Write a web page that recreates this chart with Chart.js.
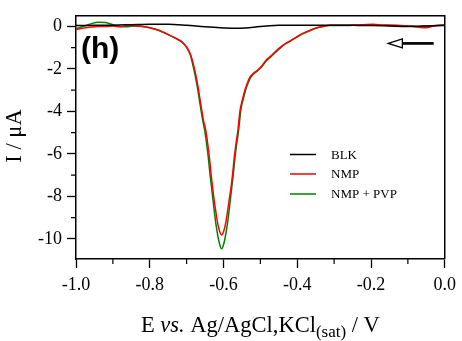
<!DOCTYPE html>
<html>
<head>
<meta charset="utf-8">
<script src="https://cdn.jsdelivr.net/npm/chart.js@4.4.1/dist/chart.umd.min.js"></script>
<style>
  html, body { margin: 0; padding: 0; background: #fff; }
  #wrap { width: 462px; height: 341px; }
</style>
</head>
<body>
<div id="wrap"><canvas id="chart" width="462" height="341"></canvas></div>
<script>
// Series (E in V, I in µA)
const blkE = [-1.0,-0.95,-0.9,-0.85,-0.8,-0.75,-0.7,-0.65,-0.6,-0.57,-0.54,-0.5,-0.45,-0.4,-0.35,-0.3,-0.25,-0.2,-0.15,-0.1,-0.05,0];
const blkI = [0.04,0.05,0.06,0.08,0.1,0.1,0.05,-0.02,-0.07,-0.09,-0.07,0.0,0.05,0.06,0.05,0.06,0.05,0.04,0.02,0.0,0.02,0.05];

const nmpE = [-1.0,-0.98,-0.96,-0.94,-0.92,-0.90,-0.88,-0.86,-0.84,-0.82,-0.80,-0.78,-0.77,-0.76,-0.745,-0.73,-0.718,-0.708,-0.70,-0.69,-0.682,-0.675,-0.669,-0.664,-0.659,-0.654,-0.648,-0.643,-0.638,-0.634,-0.630,-0.626,-0.621,-0.616,-0.611,-0.605,-0.599,-0.594,-0.589,-0.584,-0.579,-0.575,-0.571,-0.566,-0.561,-0.558,-0.555,-0.548,-0.542,-0.535,-0.528,-0.518,-0.508,-0.497,-0.485,-0.472,-0.46,-0.447,-0.435,-0.42,-0.402,-0.385,-0.366,-0.35,-0.33,-0.312,-0.28,-0.25,-0.22,-0.195,-0.17,-0.14,-0.11,-0.08,-0.05,-0.03,-0.01,0];
const nmpI = [-0.15,-0.08,-0.03,0.0,0.0,0.02,-0.02,0.05,0.03,0.0,-0.06,-0.16,-0.22,-0.3,-0.42,-0.55,-0.66,-0.8,-0.97,-1.3,-1.75,-2.3,-2.85,-3.4,-3.94,-4.45,-4.9,-5.5,-6.2,-6.9,-7.5,-8.1,-8.7,-9.25,-9.62,-9.82,-9.62,-9.25,-8.7,-8.1,-7.5,-6.9,-6.2,-5.5,-4.9,-4.4,-3.94,-3.4,-3.0,-2.65,-2.38,-2.2,-2.07,-1.88,-1.6,-1.4,-1.2,-1.0,-0.85,-0.7,-0.5,-0.33,-0.19,-0.08,0.0,0.05,0.05,0.06,0.08,0.1,0.07,0.06,0.03,-0.02,-0.06,0.02,0.05,0.05];

const pvpE = [-1.0,-0.98,-0.96,-0.94,-0.92,-0.90,-0.88,-0.86,-0.84,-0.82,-0.80,-0.78,-0.77,-0.76,-0.745,-0.73,-0.718,-0.708,-0.70,-0.69,-0.684,-0.677,-0.671,-0.666,-0.661,-0.656,-0.651,-0.646,-0.641,-0.637,-0.633,-0.629,-0.625,-0.621,-0.617,-0.612,-0.605,-0.598,-0.593,-0.589,-0.585,-0.581,-0.577,-0.573,-0.569,-0.564,-0.559,-0.556,-0.553,-0.546,-0.540,-0.533,-0.526,-0.517,-0.507,-0.496,-0.484,-0.471,-0.459,-0.446,-0.434,-0.419,-0.402,-0.385,-0.366,-0.35,-0.33,-0.31,-0.28,-0.25,-0.22,-0.19,-0.16,-0.13,-0.10,-0.07,-0.04,-0.02,0];
const pvpI = [-0.1,0.0,0.12,0.2,0.18,0.08,0.0,-0.01,0.02,0.0,-0.06,-0.16,-0.23,-0.31,-0.43,-0.56,-0.68,-0.82,-1.0,-1.33,-1.75,-2.3,-2.85,-3.4,-3.94,-4.45,-4.9,-5.5,-6.2,-6.9,-7.5,-8.1,-8.7,-9.25,-9.7,-10.15,-10.47,-10.15,-9.7,-9.25,-8.7,-8.1,-7.5,-6.9,-6.2,-5.5,-4.9,-4.4,-3.94,-3.4,-3.0,-2.65,-2.4,-2.22,-2.08,-1.9,-1.62,-1.42,-1.22,-1.02,-0.84,-0.68,-0.52,-0.35,-0.2,-0.09,0.0,0.04,0.04,0.05,0.06,0.06,0.05,0.04,0.02,0.0,0.02,0.04,0.04];

const seriesNames = ['BLK', 'NMP', 'NMP + PVP'];
const seriesColors = ['#000000', '#ff0000', '#008000'];

// Axis ticks
const xTicks = [-1.0, -0.8, -0.6, -0.4, -0.2, 0.0];
const xMinor = [-0.9, -0.7, -0.5, -0.3, -0.1];
const yTicks = [-10, -8, -6, -4, -2, 0];
const yMinor = [-9, -7, -5, -3, -1];

// scan direction arrow (data units)
const arrowTipE = -0.153, arrowBaseE = -0.115, arrowEndE = -0.03, arrowI = -0.8;

function pts(xs, ys) { return xs.map((x, i) => ({ x: x, y: ys[i] })); }

const serif = '"Liberation Serif", "Times New Roman", serif';

const extras = {
  id: 'extras',
  afterDraw(chart) {
    const ctx = chart.ctx, a = chart.chartArea;
    const xs = chart.scales.x, ys = chart.scales.y;
    ctx.save();
    ctx.strokeStyle = '#000';
    ctx.lineWidth = 1.5;
    // top + right frame
    ctx.beginPath();
    ctx.moveTo(a.left, a.top); ctx.lineTo(a.right, a.top); ctx.lineTo(a.right, a.bottom);
    ctx.stroke();
    // minor ticks
    ctx.lineWidth = 1.2;
    ctx.beginPath();
    xMinor.forEach(v => { const p = xs.getPixelForValue(v); ctx.moveTo(p, a.bottom); ctx.lineTo(p, a.bottom + 5); });
    yMinor.forEach(v => { const p = ys.getPixelForValue(v); ctx.moveTo(a.left, p); ctx.lineTo(a.left - 5, p); });
    ctx.stroke();

    // arrow
    const ay = ys.getPixelForValue(arrowI);
    const tx = xs.getPixelForValue(arrowTipE), bx = xs.getPixelForValue(arrowBaseE), ex = xs.getPixelForValue(arrowEndE);
    ctx.lineWidth = 2.7;
    ctx.beginPath(); ctx.moveTo(bx, ay); ctx.lineTo(ex, ay); ctx.stroke();
    ctx.lineWidth = 1.3;
    ctx.beginPath();
    ctx.moveTo(tx, ay); ctx.lineTo(bx, ay - 4.5); ctx.lineTo(bx, ay + 4.5); ctx.closePath();
    ctx.stroke();

    // panel label
    ctx.fillStyle = '#000';
    ctx.font = 'bold 30px "Liberation Sans", Arial, sans-serif';
    ctx.textAlign = 'left'; ctx.textBaseline = 'alphabetic';
    ctx.fillText('(h)', 81, 58);

    // legend
    const legY = [154.5, 174, 194];
    ctx.font = '13px ' + serif;
    ctx.textBaseline = 'middle';
    seriesNames.forEach((n, i) => {
      ctx.strokeStyle = seriesColors[i]; ctx.lineWidth = 1.5;
      ctx.beginPath(); ctx.moveTo(290, legY[i]); ctx.lineTo(316, legY[i]); ctx.stroke();
      ctx.fillStyle = '#000';
      ctx.fillText(n, 331, legY[i] + 1);
    });

    // y title
    ctx.save();
    ctx.translate(15, 136);
    ctx.rotate(-Math.PI / 2);
    ctx.textAlign = 'center'; ctx.textBaseline = 'middle';
    ctx.font = '22.5px ' + serif;
    ctx.fillText('I / \u03bcA', 0, 0);
    ctx.restore();

    // x title with italic + subscript
    const parts = [
      { t: 'E ', f: '22.5px ' + serif, dy: 0 },
      { t: 'vs.', f: 'italic 22.5px ' + serif, dy: 0 },
      { t: ' Ag/AgCl,KCl', f: '22.5px ' + serif, dy: 0 },
      { t: '(sat)', f: '17px ' + serif, dy: 5 },
      { t: ' / V', f: '22.5px ' + serif, dy: 0 }
    ];
    let total = 0;
    parts.forEach(p => { ctx.font = p.f; p.w = ctx.measureText(p.t).width; total += p.w; });
    let x = (a.left + a.right) / 2 - total / 2;
    ctx.textAlign = 'left'; ctx.textBaseline = 'alphabetic';
    parts.forEach(p => { ctx.font = p.f; ctx.fillText(p.t, x, 332 + p.dy); x += p.w; });
    ctx.restore();
  }
};

new Chart(document.getElementById('chart'), {
  type: 'line',
  data: {
    datasets: [
      { label: seriesNames[0], data: pts(blkE, blkI), borderColor: seriesColors[0] },
      { label: seriesNames[1], data: pts(nmpE, nmpI), borderColor: seriesColors[1] },
      { label: seriesNames[2], data: pts(pvpE, pvpI), borderColor: seriesColors[2] }
    ]
  },
  options: {
    responsive: false,
    animation: false,
    layout: { padding: { top: 15, right: 17, left: 0, bottom: 0 } },
    elements: {
      point: { radius: 0 },
      line: { borderWidth: 1.5, cubicInterpolationMode: 'monotone', fill: false }
    },
    plugins: { legend: { display: false }, tooltip: { enabled: false } },
    scales: {
      x: {
        type: 'linear', min: -1, max: 0,
        afterBuildTicks: s => { s.ticks = xTicks.map(v => ({ value: v })); },
        afterFit: s => { s.height = 82; },
        ticks: {
          color: '#000', padding: 6, maxRotation: 0,
          font: { family: serif, size: 18 },
          callback: v => Math.abs(v) < 1e-9 ? '0.0' : v.toFixed(1)
        },
        grid: { drawOnChartArea: false, drawTicks: true, tickLength: 9, tickColor: '#000', tickWidth: 1.3 },
        border: { display: true, color: '#000', width: 1.5 }
      },
      y: {
        type: 'linear', min: -10.95, max: 0.5,
        afterBuildTicks: s => { s.ticks = yTicks.map(v => ({ value: v })); },
        afterFit: s => { s.width = 76; },
        ticks: {
          color: '#000', padding: 5,
          font: { family: serif, size: 18 },
          callback: v => String(v)
        },
        grid: { drawOnChartArea: false, drawTicks: true, tickLength: 9, tickColor: '#000', tickWidth: 1.3 },
        border: { display: true, color: '#000', width: 1.5 }
      }
    }
  },
  plugins: [extras]
});
</script>
</body>
</html>
